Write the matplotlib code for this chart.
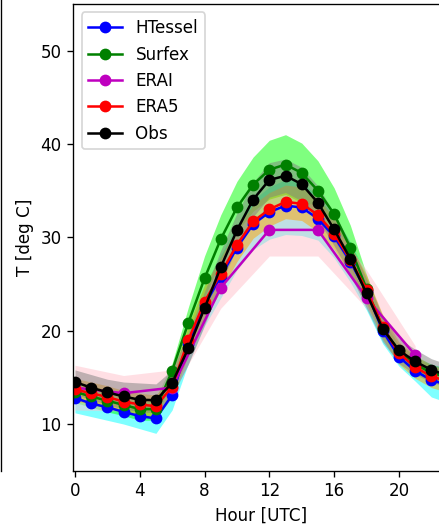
import matplotlib
matplotlib.use('Agg')
import numpy as np
import matplotlib.pyplot as plt
from matplotlib.lines import Line2D

hours = np.arange(24)
erai_hours = np.arange(0, 24, 3)

# mean diurnal cycles
htessel = [12.8, 12.2, 11.8, 11.3, 10.85, 10.6, 13.1, 18.6, 22.7, 25.8, 28.9, 31.4,
           32.7, 33.4, 33.2, 32.0, 30.1, 27.4, 24.2, 20.0, 17.2, 15.7, 14.7, 14.2]
surfex = [13.45, 12.95, 12.5, 12.05, 11.6, 11.6, 15.7, 20.85, 25.6, 29.8, 33.2, 35.65,
          37.25, 37.8, 36.9, 35.0, 32.5, 28.9, 24.5, 20.3, 17.8, 16.4, 15.5, 15.0]
erai = [13.9, 13.3, 13.9, 24.6, 30.8, 30.8, 23.5, 17.4]
era5 = [13.7, 13.3, 12.9, 12.4, 12.1, 11.9, 14.0, 19.0, 23.1, 26.1, 29.2, 31.7,
        33.0, 33.8, 33.6, 32.4, 30.4, 27.6, 24.4, 20.4, 17.6, 16.1, 15.1, 14.6]
obs = [14.5, 13.9, 13.4, 12.95, 12.6, 12.55, 14.4, 18.1, 22.4, 26.8, 30.75, 34.05,
       36.15, 36.6, 35.7, 33.7, 30.85, 27.7, 24.0, 20.2, 17.9, 16.7, 15.8, 15.2]

# spread bands
htessel_lo = [11.2, 10.8, 10.4, 10.0, 9.5, 9.0, 11.5, 16.5, 20.5, 23.5, 26.5, 28.7,
              29.8, 30.3, 30.2, 29.7, 27.8, 25.2, 22.2, 18.6, 16.2, 14.6, 12.9, 12.3]
htessel_hi = [14.3, 13.7, 13.3, 12.8, 12.3, 12.1, 14.7, 20.5, 24.9, 28.1, 31.3, 34.0,
              35.4, 36.2, 36.0, 34.3, 32.3, 29.5, 26.0, 21.4, 18.4, 17.0, 16.4, 16.0]
surfex_lo = [12.3, 11.8, 11.3, 10.9, 10.4, 10.4, 15.0, 19.7, 23.6, 27.5, 30.6, 32.8,
             34.1, 34.6, 33.7, 31.8, 29.7, 26.7, 23.2, 19.5, 17.1, 15.5, 14.6, 14.1]
surfex_hi = [14.6, 14.1, 13.7, 13.2, 12.8, 12.8, 16.5, 22.5, 28.0, 32.4, 36.0, 38.6,
             40.4, 41.0, 40.1, 38.2, 35.3, 31.3, 26.0, 21.1, 18.5, 17.3, 16.4, 15.9]
erai_lo = [11.5, 11.4, 13.4, 22.4, 28.0, 28.0, 22.4, 16.1]
erai_hi = [16.3, 15.2, 15.8, 26.8, 33.6, 33.6, 26.5, 18.4]
era5_lo = [12.5, 12.1, 11.7, 11.2, 10.9, 10.7, 12.8, 17.4, 21.3, 24.3, 27.4, 29.9,
           31.2, 32.0, 31.8, 30.6, 28.7, 26.0, 22.9, 19.1, 16.4, 14.9, 13.9, 13.4]
era5_hi = [14.9, 14.5, 14.1, 13.6, 13.3, 13.1, 15.2, 20.6, 24.9, 27.9, 31.0, 33.5,
           34.8, 35.6, 35.4, 34.2, 32.1, 29.2, 25.9, 21.7, 18.8, 17.3, 16.3, 15.8]
obs_lo = [13.2, 12.6, 12.1, 11.6, 11.3, 11.2, 13.0, 16.4, 20.6, 25.0, 28.9, 32.2,
          34.3, 34.8, 33.9, 31.9, 29.1, 26.0, 22.4, 18.8, 16.5, 15.3, 14.5, 13.9]
obs_hi = [15.8, 15.3, 14.8, 14.5, 14.4, 14.3, 15.8, 19.8, 24.2, 28.6, 32.6, 35.9,
          38.0, 38.4, 37.5, 35.5, 32.6, 29.4, 25.6, 21.6, 19.2, 18.0, 17.0, 16.4]

W, H, DPI = 439, 526, 121
fig = plt.figure(figsize=(W / DPI, H / DPI), dpi=DPI)
ax = fig.add_axes([73.3 / W, (H - 470.7) / H, 23.2 * 16.2 / W, 466.7 / H])

# bands
ax.fill_between(hours, htessel_lo, htessel_hi, color='cyan', alpha=0.5, lw=0)
ax.fill_between(hours, surfex_lo, surfex_hi, color='lime', alpha=0.5, lw=0)
ax.fill_between(erai_hours, erai_lo, erai_hi, color='pink', alpha=0.5, lw=0)
ax.fill_between(hours, era5_lo, era5_hi, color='orange', alpha=0.5, lw=0)
ax.fill_between(hours, obs_lo, obs_hi, color='grey', alpha=0.5, lw=0)

ax.plot(hours, htessel, 'o-', color='b', label='HTessel')
ax.plot(hours, surfex, 'o-', color='g', label='Surfex')
ax.plot(erai_hours, erai, 'o-', color='m', label='ERAI')
ax.plot(hours, era5, 'o-', color='r', label='ERA5')
ax.plot(hours, obs, 'o-', color='k', label='Obs')

ax.set_xlim(-0.1, 23.1)
ax.set_ylim(5, 55)
ax.set_xticks(np.arange(0, 24, 4))
ax.set_yticks([10, 20, 30, 40, 50])
ax.set_xlabel('Hour [UTC]')
ax.set_ylabel('T [deg C]')
ax.legend(loc='upper left')

# right spine of the neighbouring panel
fig.add_artist(Line2D([1.0 / W, 1.0 / W], [(H - 470.7) / H, 1.0],
                      color='k', lw=0.8, transform=fig.transFigure))

fig.savefig('out.png', dpi=DPI)
